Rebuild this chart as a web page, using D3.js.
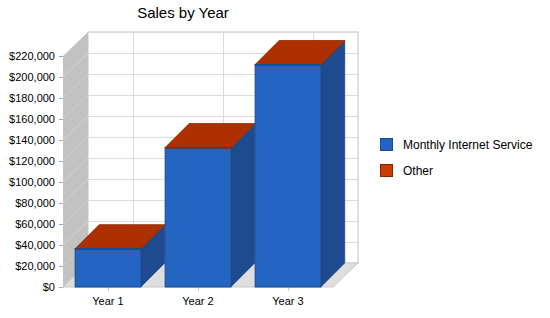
<!DOCTYPE html>
<html><head><meta charset="utf-8">
<script src="https://cdn.jsdelivr.net/npm/d3@7"></script>
<style>body{margin:0;background:#fff}svg{display:block}text{font-family:"Liberation Sans",Arial,sans-serif}</style>
</head><body><svg id="c" width="550" height="318"></svg>
<script>
const categories = ["Year 1", "Year 2", "Year 3"];
const seriesNames = ["Monthly Internet Service", "Other"];
const monthlyInternet = [36200, 132400, 211400];
const other = [300, 400, 500];
const yTicks = [0, 20000, 40000, 60000, 80000, 100000, 120000, 140000, 160000, 180000, 200000, 220000];
const title = "Sales by Year";

const series = [monthlyInternet, other];
const colors = [
  {front: "#2565c2", side: "#1e4b90", top: "#2f74d0", stroke: "#1a4a8c", legend: "#2463c4"},
  {front: "#b53200", side: "#8a2800", top: "#ad3100", stroke: "#8c2600", legend: "#c83c04"}
];

const svg = d3.select("#c");
const DX = 25, DY = -24, BDX = 24;
const y = d3.scaleLinear().domain([0, 220000]).range([287, 56]);
const x = d3.scaleBand().domain(categories).range([63, 333]).paddingInner(0.27).paddingOuter(0.135);
const x0 = 63, x1 = 333, yb = y(0), yt = y(220000);

// back wall
svg.append("rect").attr("x", x0 + DX).attr("y", yt + DY).attr("width", x1 - x0).attr("height", yb - yt)
  .attr("fill", "#fff").attr("stroke", "#c4c4c4").attr("stroke-width", 1);
// horizontal grid on back wall
svg.append("g").selectAll("line").data(yTicks.slice(1)).join("line")
  .attr("x1", x0 + DX).attr("x2", x1 + DX)
  .attr("y1", d => y(d) + DY + 0.5).attr("y2", d => y(d) + DY + 0.5)
  .attr("stroke", "#dcdcdc");
// vertical grid on back wall
svg.append("g").selectAll("line").data(categories).join("line")
  .attr("x1", d => Math.round(x(d) + x.bandwidth() / 2 + DX) + 0.5)
  .attr("x2", d => Math.round(x(d) + x.bandwidth() / 2 + DX) + 0.5)
  .attr("y1", yt + DY).attr("y2", yb + DY)
  .attr("stroke", "#dcdcdc");
// left wall
svg.append("polygon")
  .attr("points", [[x0, yb], [x0, yt], [x0 + DX, yt + DY], [x0 + DX, yb + DY]].map(p => p.join(",")).join(" "))
  .attr("fill", "#c2c2c2");
svg.append("g").selectAll("line").data(yTicks.slice(1, -1)).join("line")
  .attr("x1", x0).attr("x2", x0 + DX)
  .attr("y1", d => y(d)).attr("y2", d => y(d) + DY)
  .attr("stroke", "#d2d2d2").attr("stroke-width", 0.8);
// floor
svg.append("polygon")
  .attr("points", [[x0, yb], [x1, yb], [x1 + DX, yb + DY], [x0 + DX, yb + DY]].map(p => p.join(",")).join(" "))
  .attr("fill", "#dedede").attr("stroke", "#c8c8c8").attr("stroke-width", 1);

// y axis ticks and labels
const yAxis = svg.append("g");
yAxis.selectAll("line").data(yTicks).join("line")
  .attr("x1", 59).attr("x2", x0).attr("y1", d => y(d) + 0.5).attr("y2", d => y(d) + 0.5)
  .attr("stroke", "#aaa");
yAxis.selectAll("text").data(yTicks).join("text")
  .attr("x", 55).attr("y", d => y(d) + 4).attr("text-anchor", "end")
  .attr("font-size", 11).attr("fill", "#000")
  .text(d => "$" + d3.format(",")(d));

// x axis ticks and labels
const xAxis = svg.append("g");
xAxis.selectAll("line").data(categories).join("line")
  .attr("x1", d => Math.round(x(d) + x.bandwidth() / 2) + 0.5)
  .attr("x2", d => Math.round(x(d) + x.bandwidth() / 2) + 0.5)
  .attr("y1", yb).attr("y2", yb + 4).attr("stroke", "#ccc");
xAxis.selectAll("text").data(categories).join("text")
  .attr("x", d => x(d) + x.bandwidth() / 2).attr("y", 305).attr("text-anchor", "middle")
  .attr("font-size", 11).attr("fill", "#000").text(d => d);

// bars
const pts = a => a.map(p => p.join(",")).join(" ");
categories.forEach((cat, i) => {
  const bx = x(cat), bw = x.bandwidth();
  const g = svg.append("g");
  let base = 0, topIdx = 0;
  series.forEach((s, k) => {
    const v0 = base, v1 = base + s[i];
    base = v1;
    if (s[i] > 0) topIdx = k;
    const ya = y(v0), yb2 = y(v1);
    // side
    g.append("polygon").attr("points", pts([[bx + bw, ya], [bx + bw, yb2], [bx + bw + BDX, yb2 + DY], [bx + bw + BDX, ya + DY]]))
      .attr("fill", colors[k].side).attr("stroke", colors[k].side).attr("stroke-width", 0.5);
    // front
    g.append("rect").attr("x", bx).attr("y", yb2).attr("width", bw).attr("height", Math.max(0, ya - yb2))
      .attr("fill", colors[k].front).attr("stroke", colors[k].stroke).attr("stroke-width", 1);
  });
  const yTop = y(base);
  g.append("polygon").attr("points", pts([[bx, yTop], [bx + bw, yTop], [bx + bw + BDX, yTop + DY], [bx + BDX, yTop + DY]]))
    .attr("fill", colors[topIdx].top).attr("stroke", colors[topIdx].stroke).attr("stroke-width", 0.8);
  g.append("line").attr("x1", bx).attr("x2", bx + bw).attr("y1", yTop).attr("y2", yTop)
    .attr("stroke", colors[0].stroke).attr("stroke-width", 1.2);
});

// title
svg.append("text").attr("x", 183).attr("y", 18).attr("text-anchor", "middle")
  .attr("font-size", 15).attr("fill", "#000").text(title);

// legend
const lg = svg.append("g");
seriesNames.forEach((n, k) => {
  const ly = 138 + k * 26;
  lg.append("rect").attr("x", 380.5).attr("y", ly + 0.5).attr("width", 12).attr("height", 12)
    .attr("fill", colors[k].legend).attr("stroke", colors[k].stroke);
  lg.append("text").attr("x", 403).attr("y", ly + 11).attr("font-size", 12).attr("fill", "#000").text(n);
});
</script></body></html>
